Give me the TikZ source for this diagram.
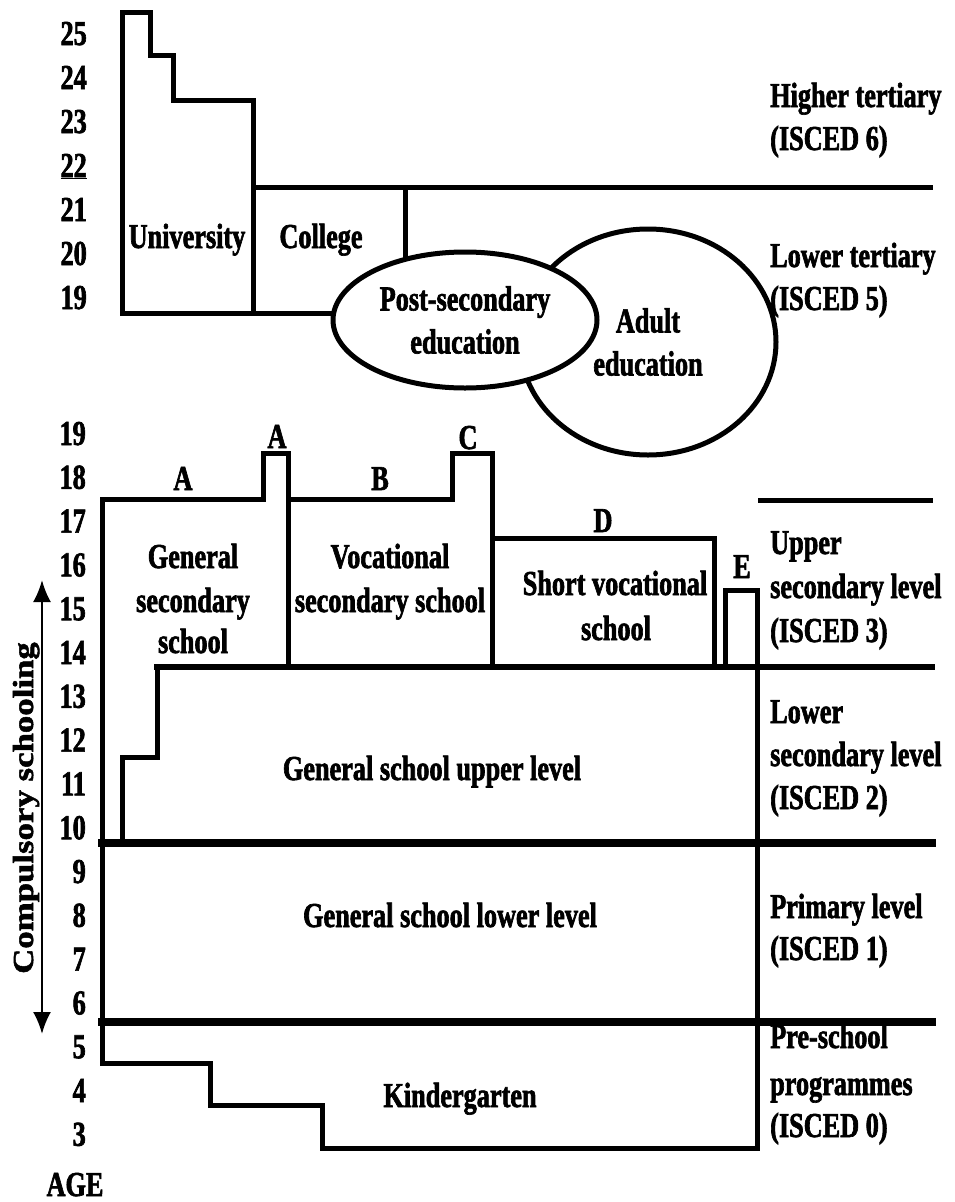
\documentclass[tikz,border=0pt]{standalone}
\usepackage{fontspec}
\usetikzlibrary{arrows.meta,shapes.geometric}
\newfontfamily\labfont[FakeStretch=0.75,FakeBold=1.8]{Liberation Serif Bold}
\newfontfamily\widefont[FakeStretch=1.2,FakeBold=1.8]{Liberation Serif Bold}
\tikzset{
  lbl/.style={font={\labfont\fontsize{35}{43}\selectfont}, inner sep=0pt},
  agelbl/.style={lbl, anchor=base east},
  rlbl/.style={lbl, anchor=base west},
  clbl/.style={lbl, anchor=base},
  wall/.style={line width=5pt, line join=miter, line cap=rect},
  heavy/.style={line width=7.5pt, line cap=rect},
  oval/.style={draw, ellipse, line width=5pt, inner sep=0pt, align=center,
    font={\labfont\fontsize{35}{43}\selectfont}},
  arrowtip/.tip={Latex[length=22pt,width=18pt]}
}
\begin{document}
\begin{tikzpicture}[x=1pt,y=-1pt]
\useasboundingbox (0,0) rectangle (955,1202);

% ---------- ages, tertiary part ----------
\foreach \a/\yy in {25/45,24/89,23/133,21/221,20/265,19/309}
  \node[agelbl] (u\a) at (87,\yy) {\a};
\node[agelbl] (u22) at (87,177) {\underline{22}};

% ---------- ages, school part ----------
\foreach \a [count=\i from 0] in {19,18,...,3}
  \node[agelbl] (l\a) at (86,{445+43.8*\i}) {\a};
\node[clbl] (age) at (75,1196) {AGE};

% ---------- tertiary shapes ----------
\draw[wall] (122,313) -- (122,12) -- (150,12) -- (150,55) -- (173,55)
  -- (173,100) -- (253,100) -- (253,313);
\draw[wall] (122,313) -- (345,313);
\draw[wall] (253,187) -- (930,187);
\draw[wall] (405,187) -- (405,270);

\node[clbl] (univ) at (187,248) {University};
\node[clbl] (coll) at (321,248) {College};

\node[oval, minimum width=256pt, minimum height=226pt] (adult) at (648,342)
  {Adult\\education};
\node[oval, fill=white, minimum width=264pt, minimum height=136pt] (post)
  at (465,320) {Post-secondary\\education};

% ---------- school shapes ----------
\draw[wall] (102,1063) -- (102,499) -- (263,499) -- (263,453) -- (288,453) -- (288,667);
\draw[wall] (288,499) -- (452,499) -- (452,453) -- (492,453) -- (492,667);
\draw[wall] (492,538) -- (714,538) -- (714,667);
\draw[wall] (725,667) -- (725,590) -- (757,590) -- (757,1148);
\draw[wall] (760,500) -- (930,500);
\draw[line width=6pt, line cap=rect] (157,667) -- (932,667);
\draw[wall] (157,667) -- (157,757) -- (122,757) -- (122,843);
\draw[heavy] (102,843) -- (932,843);
\draw[heavy] (102,1022) -- (932,1022);
\draw[wall] (102,1063) -- (210,1063) -- (210,1105) -- (322,1105) -- (322,1148) -- (757,1148);

% letters above the programmes
\node[clbl] (la1) at (183,490) {A};
\node[clbl] (la2) at (277,448) {A};
\node[clbl] (lb)  at (380,490) {B};
\node[clbl] (lc)  at (468,449) {C};
\node[clbl] (ld)  at (603,532) {D};
\node[clbl] (le)  at (742,578) {E};

% texts in the boxes
\node[clbl] (gs1) at (193,568) {General};
\node[clbl] (gs2) at (193,612) {secondary};
\node[clbl] (gs3) at (193,653) {school};
\node[clbl] (vs1) at (390,568) {Vocational};
\node[clbl] (vs2) at (390,612) {secondary school};
\node[clbl] (sv1) at (615,595) {Short vocational};
\node[clbl] (sv2) at (616,640) {school};
\node[clbl] (gu)  at (432,780) {General school upper level};
\node[clbl] (gl)  at (450,927) {General school lower level};
\node[clbl] (kg)  at (460,1107) {Kindergarten};

% compulsory schooling arrow
\coordinate (csTop) at (42,580);
\coordinate (csBot) at (42,1034);
\draw[line width=2.5pt, arrowtip-arrowtip] (csTop) -- (csBot);
\node[font={\widefont\fontsize{29}{35}\selectfont}, inner sep=0pt, rotate=90,
  anchor=base] (comp) at (33,808) {Compulsory schooling};

% ---------- level labels on the right ----------
\node[rlbl] (r6a) at (770,107) {Higher tertiary};
\node[rlbl] (r6b) at (770,150) {(ISCED 6)};
\node[rlbl] (r5a) at (770,267) {Lower tertiary};
\node[rlbl] (r5b) at (770,310) {(ISCED 5)};
\node[rlbl] (r3a) at (770,554) {Upper};
\node[rlbl] (r3b) at (770,598) {secondary level};
\node[rlbl] (r3c) at (770,642) {(ISCED 3)};
\node[rlbl] (r2a) at (770,723) {Lower};
\node[rlbl] (r2b) at (770,766) {secondary level};
\node[rlbl] (r2c) at (770,809) {(ISCED 2)};
\node[rlbl] (r1a) at (770,918) {Primary level};
\node[rlbl] (r1b) at (770,960) {(ISCED 1)};
\node[rlbl] (r0a) at (770,1048) {Pre-school};
\node[rlbl] (r0b) at (770,1095) {programmes};
\node[rlbl] (r0c) at (770,1137) {(ISCED 0)};
\end{tikzpicture}
\end{document}
